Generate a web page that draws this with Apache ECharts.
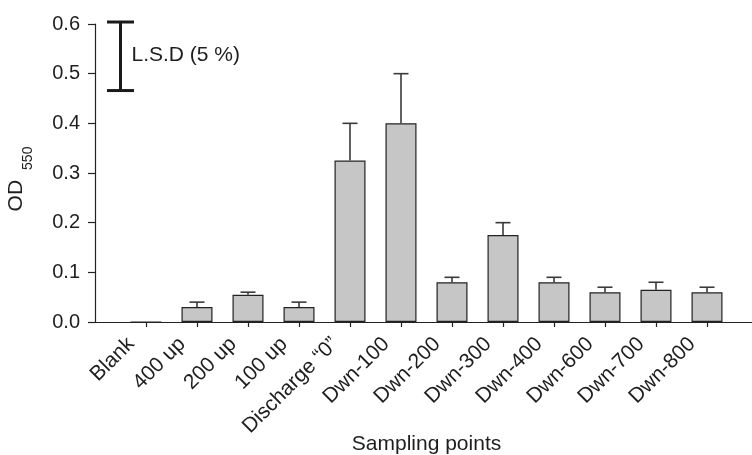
<!DOCTYPE html>
<html>
<head>
<meta charset="utf-8">
<script src="https://cdn.jsdelivr.net/npm/echarts@6/dist/echarts.min.js"></script>
<style>
html,body{margin:0;padding:0;background:#fff;}
#chart{width:752px;height:455px;}
</style>
</head>
<body>
<div id="chart"></div>
<script>
const categories = ['Blank', '400 up', '200 up', '100 up', 'Discharge \u201c0\u201d', 'Dwn-100', 'Dwn-200', 'Dwn-300', 'Dwn-400', 'Dwn-600', 'Dwn-700', 'Dwn-800'];
const means = [0, 0.03, 0.055, 0.03, 0.325, 0.4, 0.08, 0.175, 0.08, 0.06, 0.065, 0.06];
const errors = [0, 0.01, 0.005, 0.01, 0.075, 0.1, 0.01, 0.025, 0.01, 0.01, 0.015, 0.01];
const yTicks = [0, 0.1, 0.2, 0.3, 0.4, 0.5, 0.6];
const lsdLow = 0.466;
const lsdHigh = 0.604;
const lsdLabel = 'L.S.D (5 %)';
const xName = 'Sampling points';

const FONT = '"Liberation Sans", Arial, Helvetica, sans-serif';
const TXT = '#1e1e1e';

// padded category axis: an empty slot before and after the real categories
const axisCats = [''].concat(categories).concat([' ']);
const barData = [null].concat(means).concat([null]);
const errData = [];
means.forEach((m, i) => { if (errors[i] > 0) errData.push([i + 1, m, m + errors[i]]); });

const chart = echarts.init(document.getElementById('chart'), null, {renderer: 'canvas'});
chart.setOption({
  animation: false,
  backgroundColor: '#fff',
  grid: {left: 95, right: -6, top: 24, bottom: 133, containLabel: false, outerBoundsMode: 'none'},
  xAxis: {
    type: 'category',
    data: axisCats,
    boundaryGap: false,
    name: xName,
    nameLocation: 'middle',
    nameGap: 112,
    nameMoveOverlap: false,
    nameTextStyle: {fontFamily: FONT, fontSize: 21, color: TXT},
    axisLine: {lineStyle: {color: '#222', width: 1.2}},
    axisTick: {show: true, length: 5, inside: false, interval: (i) => i >= 1 && i <= categories.length, lineStyle: {color: '#222', width: 1.2}},
    axisLabel: {
      interval: 0, rotate: 45, margin: 4,
      fontFamily: FONT, fontSize: 21, color: TXT,
      padding: [0, 21, 0, 0]
    },
    splitLine: {show: false}
  },
  yAxis: {
    type: 'value',
    min: yTicks[0], max: yTicks[yTicks.length - 1], interval: yTicks[1] - yTicks[0],
    name: 'OD{sub|550}',
    nameLocation: 'middle',
    nameGap: 60,
    nameRotate: 90,
    nameMoveOverlap: false,
    nameTextStyle: {
      fontFamily: FONT, fontSize: 21, color: TXT, padding: [0, 12, 0, 0],
      rich: {sub: {fontFamily: FONT, fontSize: 14, color: TXT, padding: [24, 0, 0, 10]}}
    },
    axisLine: {show: true, lineStyle: {color: '#222', width: 1.2}},
    axisTick: {show: true, length: 7, lineStyle: {color: '#222', width: 1.2}},
    axisLabel: {margin: 15, fontFamily: FONT, fontSize: 20, color: TXT, formatter: (v) => v.toFixed(1)},
    splitLine: {show: false}
  },
  series: [
    {
      type: 'bar',
      data: barData,
      barWidth: 31,
      itemStyle: {color: '#c6c6c6', borderColor: '#222', borderWidth: 1.2},
      z: 2
    },
    {
      type: 'custom',
      data: errData,
      z: 3,
      renderItem: function (params, api) {
        const x = api.value(0);
        const b = api.coord([x, api.value(1)]);
        const t = api.coord([x, api.value(2)]);
        const s = {stroke: '#3a3a3a', lineWidth: 1.6};
        return {type: 'group', children: [
          {type: 'line', shape: {x1: b[0], y1: b[1], x2: t[0], y2: t[1]}, style: s},
          {type: 'line', shape: {x1: t[0] - 7.5, y1: t[1], x2: t[0] + 7.5, y2: t[1]}, style: s}
        ]};
      }
    },
    {
      type: 'custom',
      data: [[0, lsdLow, lsdHigh]],
      z: 4,
      clip: false,
      renderItem: function (params, api) {
        const a = api.coord([0, api.value(1)]);
        const c = api.coord([1, api.value(1)]);
        const x = (a[0] + c[0]) / 2;
        const lo = a[1];
        const hi = api.coord([0, api.value(2)])[1];
        const mid = (lo + hi) / 2;
        const s = {stroke: '#1a1a1a', lineWidth: 3};
        return {type: 'group', children: [
          {type: 'line', shape: {x1: x, y1: lo, x2: x, y2: hi}, style: s},
          {type: 'line', shape: {x1: x - 13.5, y1: hi, x2: x + 13.5, y2: hi}, style: s},
          {type: 'line', shape: {x1: x - 13.5, y1: lo, x2: x + 13.5, y2: lo}, style: s},
          {type: 'text', x: x + 11, y: mid - 1, style: {text: lsdLabel, font: '21px ' + FONT, fill: TXT, textAlign: 'left', textVerticalAlign: 'middle'}}
        ]};
      }
    }
  ]
});
</script>
</body>
</html>
